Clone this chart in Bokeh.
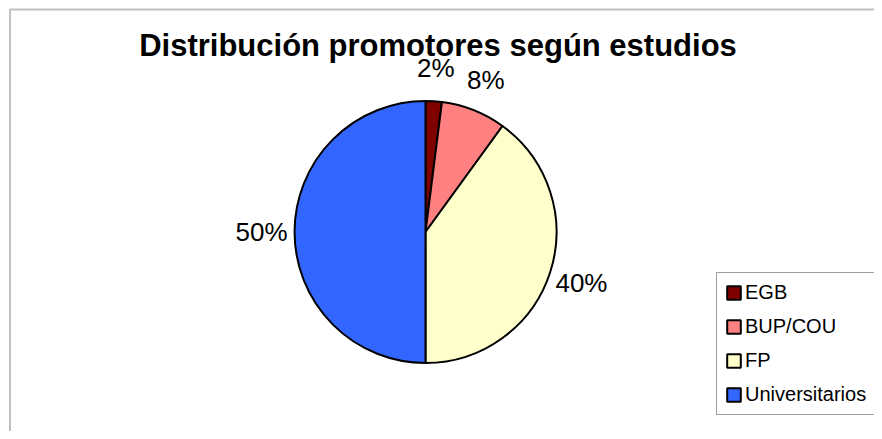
import math
from bokeh.plotting import figure
from bokeh.models import (ColumnDataSource, Range1d, Label, Legend, LegendItem,
                          BoxAnnotation)
from bokeh.core.properties import value
from bokeh.embed import file_html
from bokeh.resources import INLINE

# ---- data ----
title_text = "Distribución promotores según estudios"
categories = ["EGB", "BUP/COU", "FP", "Universitarios"]
values = [2, 8, 40, 50]
colors = ["#800000", "#FF8080", "#FFFFCC", "#3366FF"]

# ---- layout ----
W, H = 874, 431
cx, cy, R = 425, 199.5, 131
label_r = 164
FONT = "Liberation Sans"

total = float(sum(values))
starts, ends, lx, ly, ltxt = [], [], [], [], []
cum = 0.0
for v in values:
    f0 = cum / total
    f1 = (cum + v) / total
    cum += v
    starts.append(math.pi / 2 - 2 * math.pi * f0)
    ends.append(math.pi / 2 - 2 * math.pi * f1)
    mid = math.pi / 2 - 2 * math.pi * (f0 + f1) / 2
    lx.append(cx + label_r * math.cos(mid))
    ly.append(cy + label_r * math.sin(mid))
    ltxt.append(f"{round(100 * v / total)}%")

src = ColumnDataSource(dict(cat=categories, val=values, color=colors,
                            start=starts, end=ends))
lsrc = ColumnDataSource(dict(x=lx, y=ly, text=ltxt))

p = figure(width=W, height=H, output_backend="svg", toolbar_location=None,
           x_range=Range1d(0, W), y_range=Range1d(0, H), min_border=0,
           x_axis_location=None, y_axis_location=None)
p.grid.visible = False
p.outline_line_color = None
p.background_fill_color = "white"
p.border_fill_color = "white"

# chart area border (only top and left edges fall inside the picture)
p.add_layout(BoxAnnotation(left=9.5, top=H - 9, right=W + 20, bottom=-20,
                           fill_alpha=0, line_color="#333333", line_width=2))

r = p.wedge(x=cx, y=cy, radius=R, start_angle="start", end_angle="end",
            direction="clock", fill_color="color", line_color="black",
            line_width=2, source=src)

p.text(x="x", y="y", text="text", source=lsrc, text_align="center",
       text_baseline="middle", text_font=value(FONT), text_font_size="26px",
       text_color="black")

p.add_layout(Label(x=437.5, y=H - 45, text=title_text, text_align="center",
                   text_baseline="alphabetic", text_font=FONT,
                   text_font_size="31px", text_font_style="bold",
                   text_color="black"))

items = [LegendItem(label=c, renderers=[r], index=i) for i, c in enumerate(categories)]
legend = Legend(items=items, location=(716, 16), orientation="vertical",
                glyph_width=17, glyph_height=17, label_height=21, label_width=118,
                spacing=11, padding=8, margin=0, label_standoff=3,
                label_text_font=FONT, label_text_font_size="20px",
                label_text_baseline="middle", label_text_color="black",
                border_line_color="#404040", border_line_width=1,
                background_fill_color="white", background_fill_alpha=1.0)
p.add_layout(legend)

open("out.html", "w").write(file_html(p, INLINE))
